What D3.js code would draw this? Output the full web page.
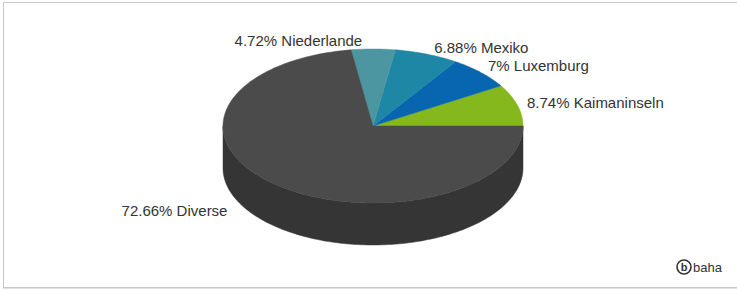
<!DOCTYPE html>
<html><head><meta charset="utf-8">
<script src="https://cdn.jsdelivr.net/npm/d3@7"></script>
<style>html,body{margin:0;padding:0;background:#fff;}svg{display:block;}</style>
</head><body>
<svg id="c" width="737" height="291"></svg>
<script>
// ---- data ----
const categories = ["Kaimaninseln", "Luxemburg", "Mexiko", "Niederlande", "Diverse"];
const values = [8.74, 7, 6.88, 4.72, 72.66];
const labels = ["8.74% Kaimaninseln", "7% Luxemburg", "6.88% Mexiko", "4.72% Niederlande", "72.66% Diverse"];
const colors = ["#84b81c", "#0866b0", "#1f87a6", "#4b96a1", "#4b4b4b"];
const sideColors = ["#5f8a12", "#054b84", "#16657c", "#376f77", "#353535"];

// ---- layout ----
const W = 737, H = 291;
const cx = 373, cy = 126, rx = 150, ry = 77, depth = 42;
const labelDist = 10;
const nudge = { "Niederlande": [-11, 2], "Diverse": [-41, 19], "Mexiko": [4, 3] };

const svg = d3.select("#c");
// frame
svg.append("line").attr("x1", 3).attr("x2", W).attr("y1", 288.5).attr("y2", 288.5).attr("stroke", "#e2e2e2");
svg.append("rect").attr("x", 3.5).attr("y", 2.5).attr("width", W + 10).attr("height", 285)
  .attr("fill", "#fff").attr("stroke", "#c8c8c8");

const pie = d3.pie().sort(null).startAngle(0).endAngle(2 * Math.PI);
const arcs = pie(values);

const pt = (t, dy = 0) => [cx + rx * Math.cos(t), cy - ry * Math.sin(t) + dy];
function arcPts(t0, t1, dy) {
  const n = Math.max(2, Math.ceil(Math.abs(t1 - t0) / 0.02));
  const out = [];
  for (let i = 0; i <= n; i++) out.push(pt(t0 + (t1 - t0) * i / n, dy));
  return out;
}
const line = d3.line();

// side walls (front-facing part: math angles pi..2pi)
const g = svg.append("g");
arcs.forEach((a, i) => {
  const s = Math.max(a.startAngle, Math.PI), e = Math.min(a.endAngle, 2 * Math.PI);
  if (e <= s) return;
  const top = arcPts(s, e, 0);
  const bot = arcPts(e, s, depth);
  g.append("path").attr("d", line(top.concat(bot)) + "Z").attr("fill", sideColors[i]).attr("stroke", sideColors[i]).attr("stroke-width", 0.5);
});

// top slices
arcs.forEach((a, i) => {
  const p = [[cx, cy]].concat(arcPts(a.startAngle, a.endAngle, 0));
  g.append("path").attr("d", line(p) + "Z").attr("fill", colors[i]).attr("stroke", colors[i]).attr("stroke-width", 0.5);
});

// labels
arcs.forEach((a, i) => {
  const m = (a.startAngle + a.endAngle) / 2;
  const c = Math.cos(m), s = Math.sin(m);
  let x = cx + (rx + labelDist) * c, y = cy - (ry + labelDist) * s;
  const nd = nudge[categories[i]] || [0, 0];
  x += nd[0]; y += nd[1];
  const anchor = (c > 0.05) ? "start" : "end";
  svg.append("text").attr("x", x).attr("y", y).attr("dy", "0.35em")
    .attr("text-anchor", anchor)
    .attr("font-family", "Liberation Sans, Arial, sans-serif").attr("font-size", 15)
    .attr("fill", "#333").text(labels[i]);
});

// logo
svg.append("circle").attr("cx", 684).attr("cy", 267).attr("r", 7).attr("fill", "none").attr("stroke", "#333").attr("stroke-width", 1.6);
svg.append("text").attr("x", 684).attr("y", 271).attr("text-anchor", "middle")
  .attr("font-family", "Liberation Sans, Arial, sans-serif").attr("font-weight", "bold").attr("font-size", 11).attr("fill", "#333").text("b");
svg.append("text").attr("x", 693).attr("y", 272)
  .attr("font-family", "Liberation Sans, Arial, sans-serif").attr("font-size", 13).attr("fill", "#333").text("baha");
</script>
</body></html>
